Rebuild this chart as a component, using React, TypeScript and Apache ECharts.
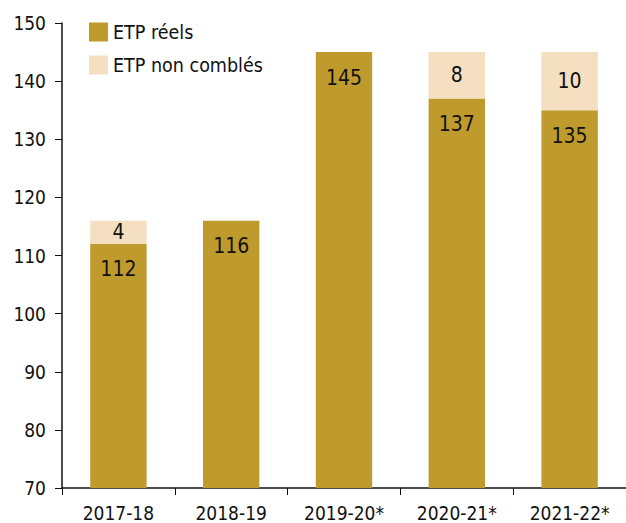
import React, { useEffect, useRef } from "react";
import * as echarts from "echarts";

const categories = ["2017-18", "2018-19", "2019-20*", "2020-21*", "2021-22*"];
const etpReels = [112, 116, 145, 137, 135];
const etpNonCombles: (number | null)[] = [4, null, null, 8, 10];
const yTicks = { min: 70, max: 150, interval: 10 };

const FONT = "'Liberation Sans Narrow', 'DejaVu Sans Condensed', 'Roboto', sans-serif";

export default function App() {
  const ref = useRef<HTMLDivElement>(null);
  useEffect(() => {
    if (!ref.current) return;
    const chart = echarts.init(ref.current, undefined, { renderer: "svg" });
    chart.setOption({
      animation: false,
      textStyle: { fontFamily: FONT },
      grid: { left: 62, top: 23, bottom: 35, width: 568 },
      legend: {
        orient: "vertical",
        left: 89,
        top: 22,
        padding: 0,
        itemWidth: 19,
        itemHeight: 19,
        itemGap: 13,
        icon: "rect",
        textStyle: { fontFamily: FONT, fontSize: 19.5, color: "#111" },
        data: ["ETP réels", "ETP non comblés"],
      },
      xAxis: {
        type: "category",
        data: categories,
        axisLine: { lineStyle: { color: "#111", width: 1.5 } },
        axisTick: { show: true, length: 7, lineStyle: { color: "#111" } },
        axisLabel: { color: "#111", fontSize: 19, fontFamily: FONT, margin: 15, interval: 0 },
      },
      yAxis: {
        type: "value",
        min: yTicks.min,
        max: yTicks.max,
        interval: yTicks.interval,
        splitLine: { show: false },
        axisLine: { show: true, lineStyle: { color: "#111", width: 1.5 } },
        axisTick: { show: true, length: 7, lineStyle: { color: "#111" } },
        axisLabel: { color: "#111", fontSize: 19, fontFamily: FONT, margin: 16 },
      },
      series: [
        {
          name: "ETP réels",
          type: "bar",
          stack: "total",
          barWidth: "50%",
          data: etpReels,
          itemStyle: { color: "#BF9B2E" },
          label: {
            show: true,
            position: "insideTop",
            distance: 15,
            color: "#111",
            fontSize: 21,
            fontFamily: FONT,
          },
        },
        {
          name: "ETP non comblés",
          type: "bar",
          stack: "total",
          barWidth: "50%",
          data: etpNonCombles,
          itemStyle: { color: "#F4DFC0" },
          label: {
            show: true,
            position: "inside",
            color: "#111",
            fontSize: 21,
            fontFamily: FONT,
          },
        },
      ],
    });
    return () => chart.dispose();
  }, []);
  return <div ref={ref} style={{ width: 626, height: 523, position: "absolute", left: 0, top: 0 }} />;
}
